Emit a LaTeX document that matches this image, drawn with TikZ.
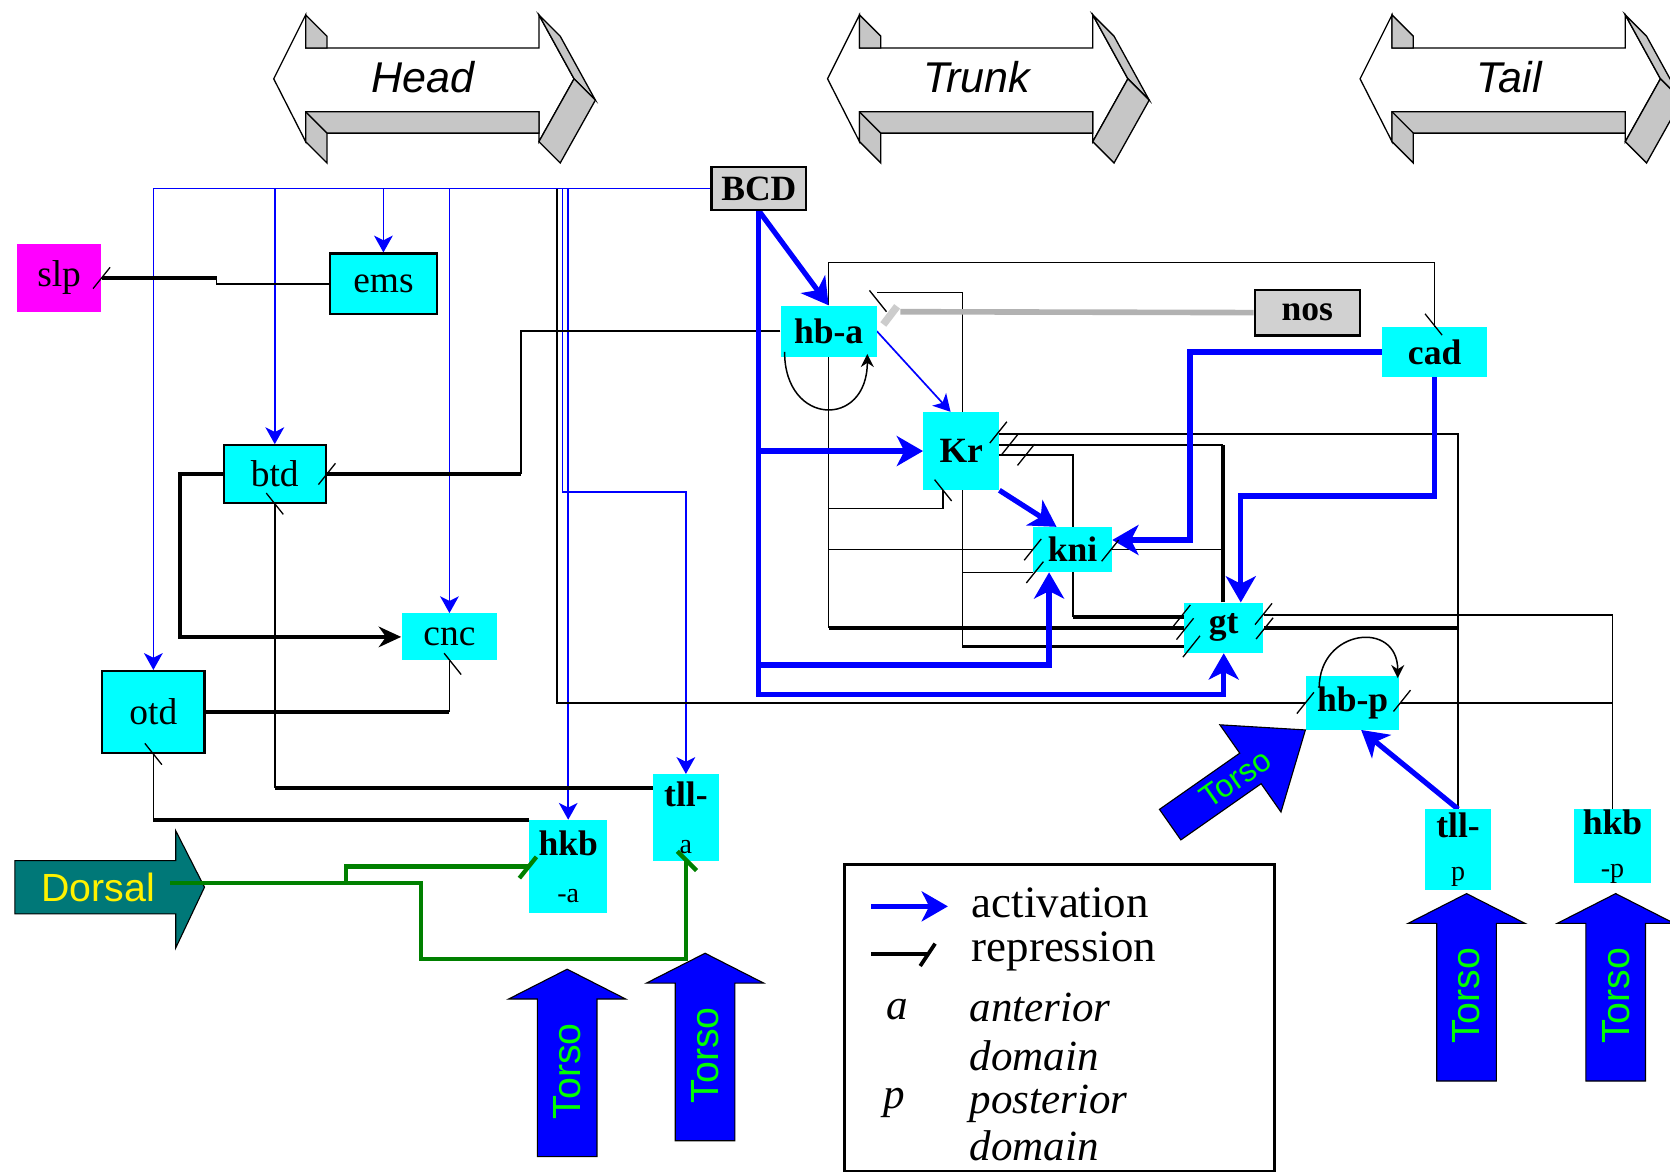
\documentclass[tikz,border=0pt]{standalone}
\usepackage{fontspec}
\setmainfont{Liberation Serif}
\newfontfamily\arialsans{Liberation Sans}
\usetikzlibrary{arrows.meta,calc,backgrounds}
\definecolor{genecyan}{RGB}{0,255,255}
\definecolor{slpmag}{RGB}{255,0,255}
\definecolor{torsoblue}{RGB}{0,0,255}
\definecolor{torsogreen}{RGB}{0,255,0}
\definecolor{dorsteal}{RGB}{0,120,120}

\tikzset{
  pics/bodyaxis/.style={code={
    \draw[line width=0.7pt, fill=white] (0,74) -- (30,14) -- (30,45) -- (249,45) -- (249,14) -- (282,74) -- (249,133) -- (249,105) -- (30,105) -- (30,133) -- cycle;
    \draw[line width=0.7pt, fill=gray!45] (30,14) -- (50,34) -- (50,45) -- (30,45) -- cycle;
    \draw[line width=0.7pt, fill=gray!45] (30,105) -- (249,105) -- (249,125) -- (50,125) -- (50,153) -- (30,133) -- cycle;
    \draw[line width=0.7pt] (30,105) -- (50,125);
    \draw[line width=0.7pt, fill=gray!45] (249,14) -- (269,34) -- (302,94) -- (282,74) -- cycle;
    \draw[line width=0.7pt, fill=gray!45] (282,74) -- (302,94) -- (269,153) -- (249,133) -- cycle;
    \node[font=\arialsans\itshape\fontsize{23}{25}\selectfont] (-lbl) at (140,72) {#1};
  }},
  pics/torsoarrow/.style={code={
    \draw[line width=0.6pt, fill=torsoblue] (0,0) -- (55,28) -- (28,28) -- (28,176) -- (-28,176) -- (-28,28) -- (-55,28) -- cycle;
    \node[rotate=90, text=torsogreen, font=\arialsans\fontsize{21}{23}\selectfont] (-lbl) at (0,96) {Torso};
  }},
  pics/repfwd/.style={code={\draw[tickln] (-8,10) -- (8,-10);}},
  pics/repbwd/.style={code={\draw[tickln] (-8,-10) -- (8,10);}},
}

\begin{document}
\begin{tikzpicture}[x=0.02cm, y=-0.02cm,
    gene/.style={fill=genecyan, inner sep=0pt, align=center, font=\fontsize{19}{21}\selectfont\bfseries},
    geneplain/.style={gene, font=\fontsize{20}{22}\selectfont},
    genebox/.style={geneplain, draw=black, line width=1.1pt},
    srcbox/.style={draw=black, line width=1.1pt, fill=black!18, inner sep=0pt, font=\fontsize{19}{21}\selectfont\bfseries},
    bcdln/.style={blue, line width=0.9pt, -{Stealth[length=9pt,width=10pt,inset=2.5pt]}},
    act/.style={blue, line width=2.8pt, -{Stealth[length=14pt,width=16pt,inset=4pt]}},
    rep/.style={line width=0.8pt},
    repbold/.style={line width=2pt},
    tickln/.style={line width=0.7pt},
    dors/.style={green!50!black, line width=2.3pt},
    legtext/.style={anchor=west, inner sep=0pt, font=\fontsize{24}{26}\selectfont},
    legital/.style={legtext, font=\fontsize{23}{25}\selectfont\itshape},
  ]
  \useasboundingbox (0,0) rectangle (1568,1100);

  % body regions
  \pic (head) at (257,0) {bodyaxis=Head};
  \pic (trunk) at (777,0) {bodyaxis=Trunk};
  \pic (tail) at (1277,0) {bodyaxis=Tail};

  % genes
  \node[geneplain, fill=slpmag, minimum width=1.58cm, minimum height=1.28cm] (slp) at (55.5,261) {slp};
  \node[genebox, minimum width=2cm, minimum height=1.14cm] (ems) at (360,266.5) {ems};
  \node[genebox, minimum width=1.92cm, minimum height=1.08cm] (btd) at (258,445) {btd};
  \node[geneplain, minimum width=1.8cm, minimum height=0.88cm] (cnc) at (422,598) {cnc};
  \node[genebox, minimum width=1.92cm, minimum height=1.54cm] (otd) at (144,668.5) {otd};
  \node[gene, minimum width=1.8cm, minimum height=0.96cm] (hba) at (778,311) {hb-a};
  \node[gene, minimum width=1.42cm, minimum height=1.46cm] (kr) at (902.5,423.5) {Kr};
  \node[gene, minimum width=1.48cm, minimum height=0.84cm] (kni) at (1007,516) {kni};
  \node[gene, minimum width=1.48cm, minimum height=0.94cm] (gt) at (1149,589.5) {gt};
  \node[gene, minimum width=1.96cm, minimum height=0.94cm] (cad) at (1347,330.5) {cad};
  \node[gene, minimum width=1.76cm, minimum height=1cm] (hbp) at (1270,660) {hb-p};
  \node[gene, minimum width=1.24cm, minimum height=1.52cm] (tllp) at (1369,798) {tll-\\[2pt]{\mdseries\fontsize{15}{17}\selectfont p}};
  \node[gene, minimum width=1.44cm, minimum height=1.38cm] (hkbp) at (1514,794.5) {hkb\\[2pt]{\mdseries\fontsize{15}{17}\selectfont -p}};
  \node[gene, minimum width=1.46cm, minimum height=1.74cm] (hkba) at (533.5,813.5) {hkb\\[4pt]{\mdseries\fontsize{15}{17}\selectfont -a}};
  \node[gene, minimum width=1.24cm, minimum height=1.62cm] (tlla) at (644,767.5) {tll-\\[4pt]{\mdseries\fontsize{15}{17}\selectfont a}};
  \node[srcbox, minimum width=1.78cm, minimum height=0.8cm] (bcd) at (712.5,177) {BCD};
  \node[srcbox, minimum width=1.98cm, minimum height=0.86cm] (nos) at (1227.5,293.5) {nos};

  % helper points
  \coordinate (tlw) at ($(tlla.north west)+(0,13)$);
  \coordinate (krb) at ($(kr.south)+(-17,0)$);
  \coordinate (krb2) at ($(krb)+(0,17)$);
  \coordinate (gtl) at ($(gt.west)+(-208,17.5)$);
  \coordinate (krg) at ($(kr.east)+(69,3.5)$);
  \coordinate (gtw1) at ($(gt.west)+(0,-10.5)$);
  \coordinate (gtn) at ($(gt.north)+(-1,0)$);
  \coordinate (kre2) at ($(kr.east)+(0,-5.5)$);
  \coordinate (knb) at ($(kni.south)+(-22,0)$);
  \coordinate (kne) at ($(kni.east)+(0,-9)$);
  \coordinate (gtc) at ($(gt.north)+(16,0)$);

  \begin{scope}[on background layer]
    % bicoid, thin
    \draw[bcdln] (bcd.west) -| (otd.north);
    \foreach \g in {btd, ems, cnc, hkba}
      \draw[bcdln] (bcd.west -| \g.north) -- (\g.north);
    \draw[bcdln] ($(bcd.west)+(-139,0)$) |- ($(tlla.north)+(0,-265)$) -- (tlla.north);
    \draw[rep] ($(bcd.west)+(-144,0)$) |- (hbp.west);

    % head genes
    \draw[rep] (ems.west) -| ($(slp.east)+(108,0)$);
    \draw[repbold] ($(slp.east)+(108,0)$) -- (slp.east);
    \draw[rep] (hba.west) -| ($(btd.east)+(182,0)$);
    \draw[repbold] ($(btd.east)+(182,0)$) -- (btd.east);
    \draw[repbold, -{Stealth[length=12pt,width=11pt]}] (btd.west) -- ++(-40,0) |- (cnc.west);
    \draw[repbold] (otd.east) -- (otd.east -| cnc.south);
    \draw[rep] (otd.east -| cnc.south) -- (cnc.south);
    \draw[repbold] (tlw) -- (tlw -| btd.south);
    \draw[rep] (tlw -| btd.south) -- (btd.south);
    \draw[repbold] (hkba.north west) -- (hkba.north west -| otd.south);
    \draw[rep] (hkba.north west -| otd.south) -- (otd.south);

    % hb-a
    \draw[rep] (hba.north) |- ($(cad.north)+(0,-60)$) -- (cad.north);
    \draw[rep] (hba.south) -- (hba.south |- gt.west);
    \draw[repbold] (hba.south |- gt.west) -- (gt.west);
    \draw[rep] (hba.south |- kni.west) -- (kni.west);
    \draw[rep] (krb) -- (krb2) -- (krb2 -| hba.south);

    % gt, Kr, kni
    \draw[repbold] (gtl) -- (gtl -| gt.west);
    \draw[rep] (gtl) |- ($(hba.north east)+(0,-12)$);
    \draw[rep] (gtl |- kni.south west) -- (kni.south west);
    \draw[rep] (kr.east |- krg) -- (krg) -- (krg |- gtw1);
    \draw[repbold] (krg |- gtw1) -- (gtw1);
    \draw[repbold] (gtn) -- (gtn |- kre2);
    \draw[rep] (gtn |- kre2) -- (kre2);
    \draw[rep] (gtn |- kni.east) -- (kni.east);

    % posterior
    \draw[rep] (tllp.north) |- ($(kr.east)+(0,-16)$);
    \draw[repbold] (tllp.north |- gt.east) -- (gt.east);
    \draw[rep] (hkbp.north) |- ($(gt.east)+(0,-12)$);
    \draw[rep] (hkbp.north |- hbp.east) -- (hbp.east);
    \draw[gray!60, line width=3pt] (nos.west) -- ($(hba.north east)+(22,6)$);

    % activation, thick
    \draw[act] (bcd.south) -- (hba.north);
    \draw[act] (bcd.south) |- (kr.west);
    \draw[act] (bcd.south) |- ($(knb)+(0,87)$) -- (knb);
    \draw[act] (bcd.south) |- ($(gt.south)+(0,39)$) -- (gt.south);
    \draw[act] (cad.west) -| ($(kne)+(73,0)$) -- (kne);
    \draw[act] (cad.south) |- ($(gtc)+(0,-100)$) -- (gtc);
    \draw[act] (kr.south east) -- ($(kni.north)+(-15,0)$);
    \draw[act] (tllp.north) -- ($(hbp.south)+(8,0)$);
    \draw[bcdln] (hba.east) -- ($(kr.north)+(-10,0)$);
  \end{scope}

  % nos mark
  \draw[gray!40, line width=4pt] ($(hba.north east)+(6,18)$) -- ($(hba.north east)+(19,1)$);

  % autoregulation
  \draw[rep, -{Stealth[length=7pt,width=7pt]}] ($(hba.south west)+(4,-5)$) .. controls +(0,70) and +(0,70) .. ($(hba.south east)+(-9,-3)$);
  \draw[rep, -{Stealth[length=7pt,width=7pt]}] ($(hbp.north west)+(13,11)$) .. controls +(0,-55) and +(0,-55) .. ($(hbp.north east)+(-2,2)$);

  % repression marks
  \foreach \p in {slp.east, btd.east, hbp.west, kni.west}
    \pic at (\p) {repfwd};
  \pic at ($(hbp.east)+(2,-2)$) {repfwd};
  \pic at ($(kni.south west)+(2,0)$) {repfwd};
  \pic at ($(kni.east)+(-2,1)$) {repfwd};
  \pic at ($(kr.east)+(-1,-17.5)$) {repfwd};
  \pic at ($(kr.east)+(10,-6.5)$) {repfwd};
  \pic at ($(kr.east)+(25,3.5)$) {repfwd};
  \pic at ($(gt.west)+(-2,-11.5)$) {repfwd};
  \pic at ($(gt.west)+(1,1)$) {repfwd};
  \pic at ($(gt.west)+(7,17.5)$) {repfwd};
  \pic at ($(gt.east)+(0,-13)$) {repfwd};
  \pic at ($(gt.east)+(1,0.5)$) {repfwd};
  \foreach \p in {btd.south, otd.south, krb}
    \pic at (\p) {repbwd};
  \pic at ($(cnc.south)+(3,3)$) {repbwd};
  \pic at ($(hba.north east)+(1,-4)$) {repbwd};
  \pic at ($(cad.north)+(-1,-2)$) {repbwd};

  % maternal inputs
  \draw[line width=0.6pt, fill=dorsteal] (14,808) -- (165,808) -- (165,780) -- (192,833) -- (165,890) -- (165,858) -- (14,858) -- cycle;
  \node[text=yellow, font=\arialsans\fontsize{21}{23}\selectfont] (dorsal) at (92,833) {Dorsal};
  \coordinate (dg) at ($(dorsal.center)+(68,-4)$);
  \draw[dors] (dg) -| ($(tlla.south)+(-249,92)$) -| (tlla.south);
  \draw[dors] ($(dg)+(165,0)$) |- (hkba.west);
  \draw[dors] ($(hkba.west)+(-9,11)$) -- ($(hkba.west)+(7,-9)$);
  \draw[dors] ($(tlla.south)+(-8,-9)$) -- ($(tlla.south)+(10,9)$);

  \pic (torsoa) at (532.5,910) {torsoarrow};
  \pic (torsob) at (662,895) {torsoarrow};
  \pic (torsoc) at (1377,839) {torsoarrow};
  \pic (torsod) at (1517,839) {torsoarrow};
  \begin{scope}[shift={(hbp.south west)}, rotate=-55]
    \draw[line width=0.6pt, fill=torsoblue] (0,0) -- (50,63) -- (17.5,63) -- (17.5,155) -- (-17.5,155) -- (-17.5,63) -- (-50,63) -- cycle;
    \node[transform shape, rotate=90, text=torsogreen, font=\arialsans\fontsize{17}{19}\selectfont] (torsodiag) at (0,80) {Torso};
  \end{scope}

  % legend
  \node[draw, line width=1.7pt, minimum width=8.08cm, minimum height=5.76cm, inner sep=0pt] (legend) at (995,956) {};
  \node[legtext] (lact) at (912,848) {activation};
  \node[legtext] (lrep) at (912,893) {repression};
  \node[legital, anchor=center] (la) at (842,948) {a};
  \node[legital] (lant) at (910,946) {anterior};
  \node[legital] (ldoma) at (910,991) {domain};
  \node[legital, anchor=center] (lp) at (840,1036) {p};
  \node[legital] (lpost) at (910,1036) {posterior};
  \node[legital] (ldomp) at (910,1076) {domain};
  \coordinate (la1) at ($(lact.west)+(-94,3)$);
  \coordinate (la2) at ($(lact.west)+(-22,3)$);
  \draw[act] (la1) -- (la2);
  \coordinate (lr1) at ($(lrep.west)+(-94,3)$);
  \coordinate (lr2) at ($(lrep.west)+(-40,3)$);
  \draw[repbold] (lr1) -- (lr2);
  \draw[repbold] ($(lr2)+(-8,11)$) -- ($(lr2)+(6,-10)$);
\end{tikzpicture}
\end{document}
